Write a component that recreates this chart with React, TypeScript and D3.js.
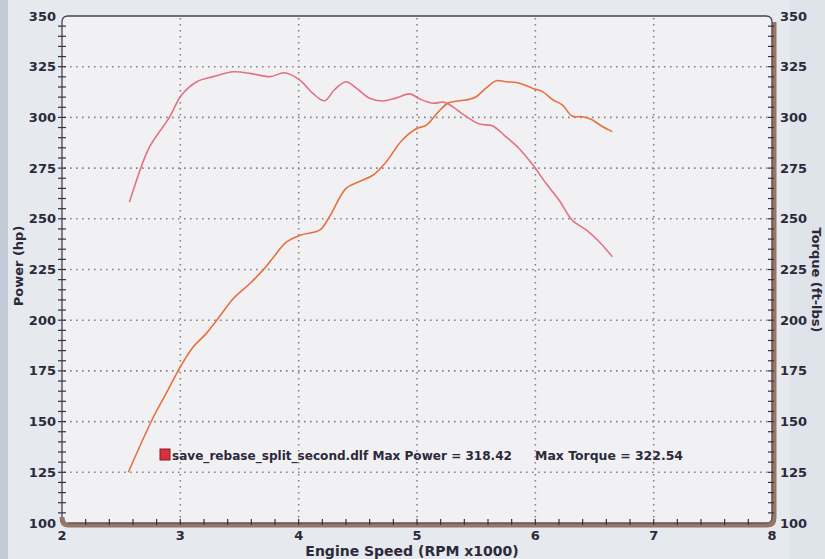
import * as d3 from 'd3'
import React, { useEffect, useRef } from 'react'

// readings off the dyno sheet (rpm x1000)
const torqueRpm = [2.57, 2.67, 2.74, 2.91, 3.01, 3.14, 3.28, 3.45, 3.59, 3.76, 3.88, 4.01, 4.12, 4.22, 4.30, 4.40, 4.49, 4.60, 4.71, 4.82, 4.94, 5.02, 5.13, 5.23, 5.30, 5.42, 5.53, 5.64, 5.75, 5.86, 5.98, 6.09, 6.20, 6.31, 6.43, 6.54, 6.65]
const torqueVals = [258.3, 275.7, 285.5, 300.3, 311, 317.6, 320.1, 322.5, 321.7, 320.1, 322.0, 318.4, 311.8, 308.2, 313.5, 317.6, 314.3, 309.4, 308.1, 309.5, 311.6, 309.2, 307, 307.5, 305.3, 300.3, 296.7, 295.8, 290.5, 284.8, 276.5, 267.5, 259.3, 249.4, 244.5, 238.7, 231.3]
const powerRpm = [2.56, 2.76, 2.85, 2.91, 3.00, 3.11, 3.22, 3.33, 3.45, 3.59, 3.70, 3.78, 3.90, 4.02, 4.18, 4.26, 4.40, 4.51, 4.63, 4.74, 4.87, 4.99, 5.08, 5.17, 5.26, 5.36, 5.44, 5.50, 5.58, 5.67, 5.75, 5.85, 5.98, 6.06, 6.15, 6.23, 6.31, 6.40, 6.47, 6.57, 6.65]
const powerVals = [125, 150.8, 160.7, 167.2, 177, 186.9, 193.5, 201.7, 210.8, 218.2, 224.8, 230.5, 238.7, 242, 244.5, 251, 265, 268.3, 271.6, 278.1, 288.5, 294.3, 296.2, 302, 307, 308.2, 308.9, 310.2, 314.3, 318.1, 317.6, 317.1, 314.3, 312.7, 308.6, 306.1, 300.7, 300.3, 299.1, 295.4, 293]
const xTicks = [2, 3, 4, 5, 6, 7, 8]
const yTicks = [100, 125, 150, 175, 200, 225, 250, 275, 300, 325, 350]
const legendFile = 'save_rebase_split_second.dlf Max Power = 318.42'
const legendTorque = 'Max Torque = 322.54'

const W = 825
const H = 559
const font = 'Verdana, "DejaVu Sans", sans-serif'

export default function App() {
    const ref = useRef<SVGSVGElement>(null)

    useEffect(() => {
        const svg = d3.select(ref.current)
        svg.selectAll('*').remove()

        const x = d3.scaleLinear().domain([2, 8]).range([62, 772])
        const y = d3.scaleLinear().domain([100, 350]).range([523, 16])
        const x0 = x(2), x1 = x(8), y0 = y(100), y1 = y(350)

        // scanned paper look
        svg.append('rect').attr('width', W).attr('height', H).attr('fill', '#e6e9ee')
        svg.append('rect').attr('width', 8).attr('height', H).attr('fill', '#c3ccd6')
        svg.append('rect').attr('x', 790).attr('width', 35).attr('height', H).attr('fill', '#dfe4ea')
        svg.append('rect')
            .attr('x', x0).attr('y', y1)
            .attr('width', x1 - x0).attr('height', y0 - y1)
            .attr('fill', '#f1f1f4')

        // dotted grid
        const grid = svg.append('g')
            .attr('stroke', '#8c8088')
            .attr('stroke-width', 1.6)
            .attr('stroke-dasharray', '1.6,4.4')
        grid.selectAll('line.h')
            .data(yTicks.filter(t => t > 100 && t < 350))
            .join('line')
            .attr('x1', x0 + 2).attr('x2', x1 - 2)
            .attr('y1', d => y(d)).attr('y2', d => y(d))
        grid.selectAll('line.v')
            .data(xTicks.filter(t => t > 2 && t < 8))
            .join('line')
            .attr('x1', d => x(d)).attr('x2', d => x(d))
            .attr('y1', y1 + 2).attr('y2', y0 - 2)

        // frame: thin outline + thick brown bottom/right
        const r = 6
        svg.append('path')
            .attr('d', `M${x0},${y0 - r} L${x0},${y1 + r} Q${x0},${y1} ${x0 + r},${y1} L${x1 - r},${y1} Q${x1},${y1} ${x1},${y1 + r}`)
            .attr('fill', 'none').attr('stroke', '#4a4050').attr('stroke-width', 1.3)
        svg.append('path')
            .attr('d', `M${x0},${y0 - r} Q${x0},${y0 + 2} ${x0 + r},${y0 + 2} L${x1 - r + 2},${y0 + 2} Q${x1 + 2},${y0 + 2} ${x1 + 2},${y0 - r} L${x1 + 2},${y1 + r}`)
            .attr('fill', 'none').attr('stroke', '#957565').attr('stroke-width', 5)
        svg.append('path')
            .attr('d', `M${x0 + r},${y0} L${x1 - r},${y0} Q${x1},${y0} ${x1},${y0 - r} L${x1},${y1 + r}`)
            .attr('fill', 'none').attr('stroke', '#4a4050').attr('stroke-width', 1)

        // minor ticks
        const minorY = d3.range(105, 350, 5)
        svg.append('g').selectAll('line')
            .data(minorY)
            .join('line')
            .attr('x1', x0 - 4).attr('x2', x0 + 4)
            .attr('y1', d => y(d)).attr('y2', d => y(d))
            .attr('stroke', '#3a3040').attr('stroke-width', 1.2)
        svg.append('g').selectAll('line')
            .data(minorY)
            .join('line')
            .attr('x1', x1 - 4).attr('x2', x1 + 2)
            .attr('y1', d => y(d)).attr('y2', d => y(d))
            .attr('stroke', '#3a3040').attr('stroke-width', 1.2)
        svg.append('g').selectAll('line')
            .data(d3.range(2.2, 7.9, 0.2))
            .join('line')
            .attr('x1', d => x(d)).attr('x2', d => x(d))
            .attr('y1', y0 - 4).attr('y2', y0 + 2)
            .attr('stroke', '#3a3040').attr('stroke-width', 1.2)

        // tick labels
        const lab = svg.append('g')
            .attr('font-family', font).attr('font-weight', 'bold')
            .attr('font-size', 13).attr('fill', '#2c2a3a')
        lab.selectAll('text.l')
            .data(yTicks)
            .join('text')
            .attr('x', x0 - 6).attr('y', d => y(d) + 4.5)
            .attr('text-anchor', 'end')
            .text(d => d)
        const labR = svg.append('g')
            .attr('font-family', font).attr('font-weight', 'bold')
            .attr('font-size', 13).attr('fill', '#2c2a3a')
        labR.selectAll('text')
            .data(yTicks)
            .join('text')
            .attr('x', x1 + 8).attr('y', d => y(d) + 4.5)
            .text(d => d)
        const labB = svg.append('g')
            .attr('font-family', font).attr('font-weight', 'bold')
            .attr('font-size', 13).attr('fill', '#2c2a3a')
        labB.selectAll('text')
            .data(xTicks)
            .join('text')
            .attr('x', d => x(d)).attr('y', y0 + 17)
            .attr('text-anchor', 'middle')
            .text(d => d)

        // axis titles
        svg.append('text')
            .attr('transform', `translate(23 ${266}) rotate(-90)`)
            .attr('text-anchor', 'middle')
            .attr('font-family', font).attr('font-weight', 'bold')
            .attr('font-size', 13).attr('fill', '#2c2a3a')
            .text('Power (hp)')
        svg.append('text')
            .attr('transform', `translate(812 ${280}) rotate(90)`)
            .attr('text-anchor', 'middle')
            .attr('font-family', font).attr('font-weight', 'bold')
            .attr('font-size', 13).attr('fill', '#2c2a3a')
            .text('Torque (ft-lbs)')
        svg.append('text')
            .attr('x', 412).attr('y', 556)
            .attr('text-anchor', 'middle')
            .attr('font-family', font).attr('font-weight', 'bold')
            .attr('font-size', 14).attr('fill', '#2c2a3a')
            .text('Engine Speed (RPM x1000)')

        // curves
        const line = d3.line<[number, number]>()
            .x(d => x(d[0]))
            .y(d => y(d[1]))
            .curve(d3.curveCatmullRom.alpha(0.5))
        svg.append('path')
            .datum(torqueRpm.map((v, i) => [v, torqueVals[i]] as [number, number]))
            .attr('d', line)
            .attr('fill', 'none').attr('stroke', '#e2727f').attr('stroke-width', 1.6)
        svg.append('path')
            .datum(powerRpm.map((v, i) => [v, powerVals[i]] as [number, number]))
            .attr('d', line)
            .attr('fill', 'none').attr('stroke', '#e8703f').attr('stroke-width', 1.6)

        // legend
        const lg = svg.append('g')
        lg.append('rect')
            .attr('x', 160).attr('y', 449).attr('width', 10).attr('height', 11)
            .attr('fill', '#d8303f').attr('stroke', '#8a1a25').attr('stroke-width', 1)
        lg.append('text')
            .attr('x', 172).attr('y', 460)
            .attr('font-family', font).attr('font-weight', 'bold')
            .attr('font-size', 12.5).attr('fill', '#2c2a3a')
            .attr('textLength', 340).attr('lengthAdjust', 'spacingAndGlyphs')
            .text(legendFile)
        lg.append('text')
            .attr('x', 535).attr('y', 460)
            .attr('font-family', font).attr('font-weight', 'bold')
            .attr('font-size', 12.5).attr('fill', '#2c2a3a')
            .attr('textLength', 148).attr('lengthAdjust', 'spacingAndGlyphs')
            .text(legendTorque)
    }, [])

    return (
        <svg ref={ref} width={W} height={H} viewBox={`0 0 ${W} ${H}`}
            style={{ position: 'absolute', left: 0, top: 0, display: 'block' }} />
    )
}
